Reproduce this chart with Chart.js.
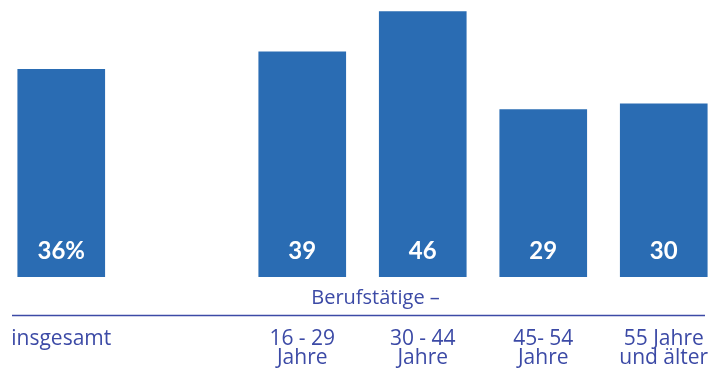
<!DOCTYPE html>
<html>
<head>
<meta charset="utf-8">
<script src="https://cdn.jsdelivr.net/npm/chart.js@4/dist/chart.umd.min.js"></script>
<style>
  html, body { margin: 0; padding: 0; background: #fff; overflow: hidden; }
  #wrap { width: 724px; height: 371px; }
</style>
</head>
<body>
<div id="wrap"><canvas id="chart" width="724" height="371"></canvas></div>
<script>
// Anteil in Prozent, Berufstätige nach Alter
const categories = [
  ['insgesamt'],
  '',
  ['16 - 29', 'Jahre'],
  ['30 - 44', 'Jahre'],
  ['45- 54', 'Jahre'],
  ['55 Jahre', 'und älter']
];
const values = [36, null, 39, 46, 29, 30];
const valueLabels = ['36%', '', '39', '46', '29', '30'];
const groupTitle = 'Berufstätige –';

const barColor = '#2a6cb3';
const textColor = '#3c4aa6';
const labelFont = '"Open Sans", Lato, sans-serif';
const valueFont = 'Lato, "Open Sans", sans-serif';

// Werte weiß und fett unten in den Balken
const valueLabelPlugin = {
  id: 'valueLabels',
  afterDatasetsDraw(chart) {
    const ctx = chart.ctx;
    const meta = chart.getDatasetMeta(0);
    ctx.save();
    ctx.fillStyle = '#ffffff';
    ctx.font = 'bold 24px ' + valueFont;
    ctx.textAlign = 'center';
    ctx.textBaseline = 'middle';
    meta.data.forEach((bar, i) => {
      if (values[i] == null) return;
      ctx.fillText(valueLabels[i], bar.x, bar.base - 26);
    });
    ctx.restore();
  }
};

// Überschrift "Berufstätige –" und Trennlinie über den Achsenbeschriftungen
const groupPlugin = {
  id: 'groupHeader',
  afterDraw(chart) {
    const ctx = chart.ctx;
    const x = chart.scales.x;
    ctx.save();
    ctx.fillStyle = textColor;
    ctx.font = '20px ' + labelFont;
    ctx.textAlign = 'left';
    ctx.textBaseline = 'middle';
    ctx.fillText(groupTitle, x.getPixelForValue(2) + 9, x.top + 21);

    ctx.strokeStyle = textColor;
    ctx.lineWidth = 1.3;
    ctx.beginPath();
    ctx.moveTo(12, x.top + 38.5);
    ctx.lineTo(705, x.top + 38.5);
    ctx.stroke();
    ctx.restore();
  }
};

new Chart(document.getElementById('chart'), {
  type: 'bar',
  data: {
    labels: categories,
    datasets: [{
      data: values,
      backgroundColor: barColor,
      borderWidth: 0,
      barThickness: 87
    }]
  },
  options: {
    responsive: false,
    animation: false,
    events: [],
    layout: { autoPadding: false, padding: { left: 1, right: 0, top: 0, bottom: 0 } },
    plugins: {
      legend: { display: false },
      tooltip: { enabled: false }
    },
    scales: {
      x: {
        grid: { display: false, drawTicks: false },
        border: { display: false },
        ticks: {
          autoSkip: false,
          maxRotation: 0,
          color: textColor,
          padding: 53,
          font: { family: labelFont, size: 21, lineHeight: 0.88 }
        },
        afterFit(scale) {
          // feste Achsenhöhe, keine automatische Randpolsterung
          scale.height = 94;
          scale.paddingLeft = 0;
          scale.paddingRight = 0;
        }
      },
      y: {
        display: false,
        min: 0,
        max: 48
      }
    }
  },
  plugins: [valueLabelPlugin, groupPlugin]
});
</script>
</body>
</html>
